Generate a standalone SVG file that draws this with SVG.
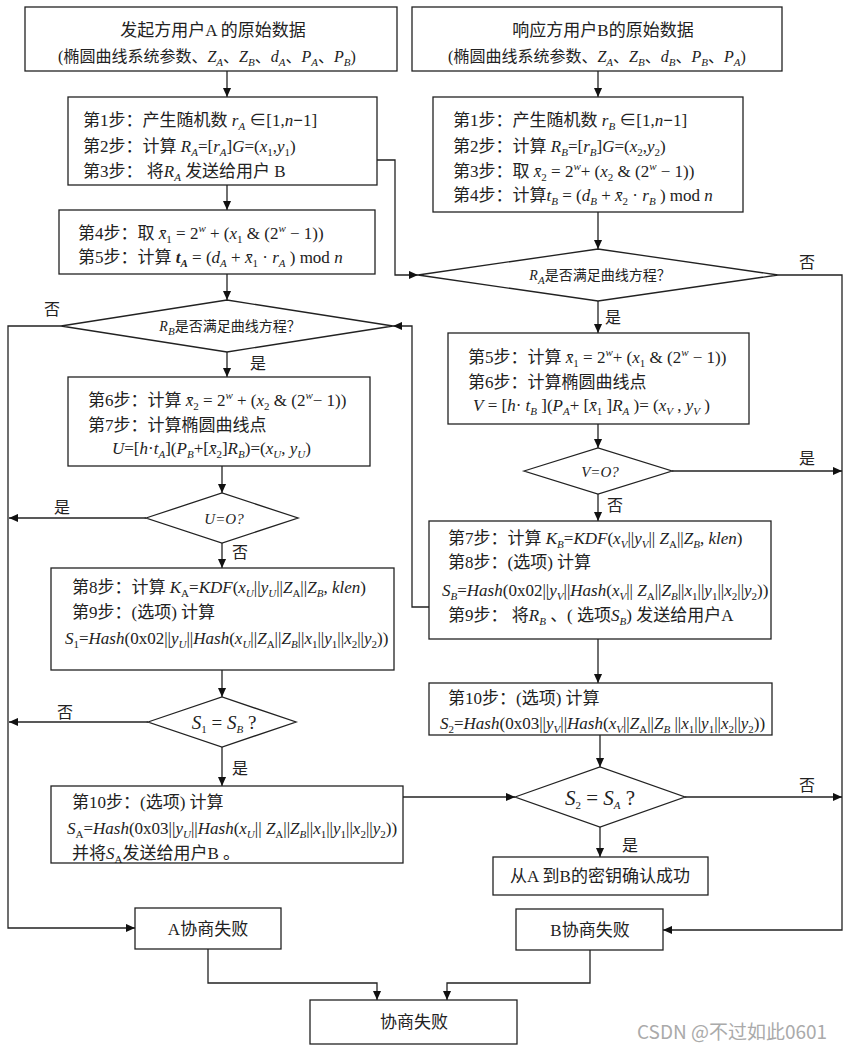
<svg xmlns="http://www.w3.org/2000/svg" width="851" height="1048" viewBox="0 0 851 1048">
<defs>
<marker id="ah" viewBox="0 0 10 10" refX="10" refY="5" markerWidth="10" markerHeight="9" markerUnits="userSpaceOnUse" orient="auto"><path d="M0,0.5 L10,5 L0,9.5 z" fill="#111"/></marker>
<style>
.bx{fill:#fff;stroke:#222;stroke-width:1.3}
.ln{fill:none;stroke:#222;stroke-width:1.3}
.ar{marker-end:url(#ah)}
text{font-family:"Liberation Serif","Noto Sans CJK SC",serif;font-size:17px;fill:#222}
.c{text-anchor:middle}
.i{font-style:italic}
.sb{font-size:11px;baseline-shift:-4px}
.sp{font-size:11px;baseline-shift:7px}
.d{font-size:14px}
.lb{font-size:16px}
.hd{font-size:16px}
.bi{font-weight:bold;font-style:italic}
.bm{font-weight:bold}
.wm{font-family:"Noto Sans CJK SC",sans-serif;font-size:19px;fill:#aaa}
</style>
</defs>
<rect width="851" height="1048" fill="#fff"/>

<g id="connectors">
<path class="ln ar" d="M227,71 V97"/>
<path class="ln ar" d="M598,71 V97"/>
<path class="ln ar" d="M227,185 V210"/>
<path class="ln ar" d="M377,160 H395 V275 H418"/>
<path class="ln ar" d="M598,212 V249"/>
<path class="ln ar" d="M227,274 V300"/>
<path class="ln ar" d="M61,326 H8 V928 H135"/>
<path class="ln ar" d="M227,352 V377"/>
<path class="ln ar" d="M778,275 H842 V930 H663"/>
<path class="ln ar" d="M598,301 V333"/>
<path class="ln ar" d="M598,424 V448"/>
<path class="ln ar" d="M672,471 H842"/>
<path class="ln ar" d="M598,494 V521"/>
<path class="ln ar" d="M429,607 H412 V326 H393"/>
<path class="ln ar" d="M222,466 V493"/>
<path class="ln ar" d="M146,518 H9"/>
<path class="ln ar" d="M222,543 V568"/>
<path class="ln ar" d="M222,670 V697"/>
<path class="ln ar" d="M148,722 H9"/>
<path class="ln ar" d="M222,747 V786"/>
<path class="ln ar" d="M598,639 V683"/>
<path class="ln ar" d="M600,735 V767"/>
<path class="ln ar" d="M403,797 H515"/>
<path class="ln ar" d="M685,797 H842"/>
<path class="ln ar" d="M600,827 V857"/>
<path class="ln ar" d="M208,949 V983 H377 V1000"/>
<path class="ln ar" d="M590,950 V983 H447 V1000"/>
</g>

<g id="labels">
<text class="c lb" x="52" y="315">否</text>
<text class="c lb" x="807" y="268">否</text>
<text class="c lb" x="613" y="323">是</text>
<text class="c lb" x="258" y="369">是</text>
<text class="c lb" x="807" y="464">是</text>
<text class="c lb" x="615" y="511">否</text>
<text class="c lb" x="62" y="513">是</text>
<text class="c lb" x="240" y="558">否</text>
<text class="c lb" x="65" y="718">否</text>
<text class="c lb" x="240" y="774">是</text>
<text class="c lb" x="807" y="791">否</text>
<text class="c lb" x="630" y="851">是</text>
</g>

<g id="nodeA0">
<rect class="bx" x="25" y="7" width="372" height="64"/>
<text class="c" x="213" y="36">发起方用户A 的原始数据</text>
<text class="c hd" x="207" y="62">(椭圆曲线系统参数、<tspan class="i">Z</tspan><tspan class="sb i">A</tspan>、<tspan class="i">Z</tspan><tspan class="sb i">B</tspan>、<tspan class="i">d</tspan><tspan class="sb i">A</tspan>、<tspan class="i">P</tspan><tspan class="sb i">A</tspan>、<tspan class="i">P</tspan><tspan class="sb i">B</tspan>)</text>
</g>

<g id="nodeB0">
<rect class="bx" x="412" y="7" width="370" height="64"/>
<text class="c" x="603" y="36">响应方用户B的原始数据</text>
<text class="c hd" x="597" y="62">(椭圆曲线系统参数、<tspan class="i">Z</tspan><tspan class="sb i">A</tspan>、<tspan class="i">Z</tspan><tspan class="sb i">B</tspan>、<tspan class="i">d</tspan><tspan class="sb i">B</tspan>、<tspan class="i">P</tspan><tspan class="sb i">B</tspan>、<tspan class="i">P</tspan><tspan class="sb i">A</tspan>)</text>
</g>

<g id="nodeA1">
<rect class="bx" x="68" y="97" width="309" height="88"/>
<text x="83" y="126">第1步：产生随机数 <tspan class="i">r</tspan><tspan class="sb i">A</tspan> ∈[1,<tspan class="i">n</tspan><tspan class="bm">−</tspan>1]</text>
<text x="83" y="152">第2步：计算 <tspan class="i">R</tspan><tspan class="sb i">A</tspan>=[<tspan class="i">r</tspan><tspan class="sb i">A</tspan>]<tspan class="i">G</tspan>=(<tspan class="i">x</tspan><tspan class="sb">1</tspan>,<tspan class="i">y</tspan><tspan class="sb">1</tspan>)</text>
<text x="83" y="177">第3步： 将<tspan class="i">R</tspan><tspan class="sb i">A</tspan> 发送给用户 B</text>
</g>

<g id="nodeB1">
<rect class="bx" x="433" y="97" width="310" height="115"/>
<text x="453" y="126">第1步：产生随机数 <tspan class="i">r</tspan><tspan class="sb i">B</tspan> ∈[1,<tspan class="i">n</tspan><tspan class="bm">−</tspan>1]</text>
<text x="453" y="152">第2步：计算 <tspan class="i">R</tspan><tspan class="sb i">B</tspan>=[<tspan class="i">r</tspan><tspan class="sb i">B</tspan>]<tspan class="i">G</tspan>=(<tspan class="i">x</tspan><tspan class="sb">2</tspan>,<tspan class="i">y</tspan><tspan class="sb">2</tspan>)</text>
<text x="453" y="177">第3步：取 <tspan class="i">x&#x304;</tspan><tspan class="sb">2</tspan> = 2<tspan class="sp i">w</tspan>+ (<tspan class="i">x</tspan><tspan class="sb">2</tspan> &amp; (2<tspan class="sp i">w</tspan> − 1))</text>
<text x="453" y="201">第4步：计算<tspan class="i">t</tspan><tspan class="sb i">B</tspan> = (<tspan class="i">d</tspan><tspan class="sb i">B</tspan> + <tspan class="i">x&#x304;</tspan><tspan class="sb">2</tspan> · <tspan class="i">r</tspan><tspan class="sb i">B</tspan> ) mod <tspan class="i">n</tspan></text>
</g>

<g id="nodeA2">
<rect class="bx" x="59" y="210" width="316" height="64"/>
<text x="78" y="239">第4步：取 <tspan class="i">x&#x304;</tspan><tspan class="sb">1</tspan> = 2<tspan class="sp i">w</tspan> + (<tspan class="i">x</tspan><tspan class="sb">1</tspan> &amp; (2<tspan class="sp i">w</tspan> − 1))</text>
<text x="78" y="263">第5步：计算 <tspan class="bi">t</tspan><tspan class="sb bi">A</tspan> = (<tspan class="i">d</tspan><tspan class="sb i">A</tspan> + <tspan class="i">x&#x304;</tspan><tspan class="sb">1</tspan> · <tspan class="i">r</tspan><tspan class="sb i">A</tspan> ) mod <tspan class="i">n</tspan></text>
</g>

<g id="decRA">
<polygon class="bx" points="418,275 598,249 778,275 598,301"/>
<text class="c d" x="600" y="280"><tspan class="i">R</tspan><tspan class="sb i">A</tspan>是否满足曲线方程？</text>
</g>

<g id="decRB">
<polygon class="bx" points="61,326 227,300 393,326 227,352"/>
<text class="c d" x="230" y="331"><tspan class="i">R</tspan><tspan class="sb i">B</tspan>是否满足曲线方程？</text>
</g>

<g id="nodeA3">
<rect class="bx" x="68" y="377" width="302" height="89"/>
<text x="88" y="406">第6步：计算 <tspan class="i">x&#x304;</tspan><tspan class="sb">2</tspan> = 2<tspan class="sp i">w</tspan> + (<tspan class="i">x</tspan><tspan class="sb">2</tspan> &amp; (2<tspan class="sp i">w</tspan>− 1))</text>
<text x="88" y="431">第7步：计算椭圆曲线点</text>
<text x="112" y="454"><tspan class="i">U</tspan>=[<tspan class="i">h</tspan>·<tspan class="i">t</tspan><tspan class="sb i">A</tspan>](<tspan class="i">P</tspan><tspan class="sb i">B</tspan>+[<tspan class="i">x&#x304;</tspan><tspan class="sb">2</tspan>]<tspan class="i">R</tspan><tspan class="sb i">B</tspan>)=(<tspan class="i">x</tspan><tspan class="sb i">U</tspan>, <tspan class="i">y</tspan><tspan class="sb i">U</tspan>)</text>
</g>

<g id="nodeB2">
<rect class="bx" x="448" y="333" width="301" height="91"/>
<text x="468" y="363">第5步：计算 <tspan class="i">x&#x304;</tspan><tspan class="sb">1</tspan> = 2<tspan class="sp i">w</tspan>+ (<tspan class="i">x</tspan><tspan class="sb">1</tspan> &amp; (2<tspan class="sp i">w</tspan> − 1))</text>
<text x="468" y="388">第6步：计算椭圆曲线点</text>
<text x="473" y="411"><tspan class="i">V</tspan> = [<tspan class="i">h</tspan>· <tspan class="i">t</tspan><tspan class="sb i">B</tspan> ](<tspan class="i">P</tspan><tspan class="sb i">A</tspan>+ [<tspan class="i">x&#x304;</tspan><tspan class="sb">1</tspan> ]<tspan class="i">R</tspan><tspan class="sb i">A</tspan> )= (<tspan class="i">x</tspan><tspan class="sb i">V</tspan> , <tspan class="i">y</tspan><tspan class="sb i">V</tspan> )</text>
</g>

<g id="decV">
<polygon class="bx" points="524,471 598,448 672,471 598,494"/>
<text class="c i" x="600" y="477" style="font-size:15px">V=O?</text>
</g>

<g id="decU">
<polygon class="bx" points="146,518 222,493 298,518 222,543"/>
<text class="c i" x="224" y="524" style="font-size:15px">U=O?</text>
</g>

<g id="nodeA4">
<rect class="bx" x="51" y="568" width="343" height="102"/>
<text x="72" y="593">第8步：计算 <tspan class="i">K</tspan><tspan class="sb">A</tspan>=<tspan class="i">KDF</tspan>(<tspan class="i">x</tspan><tspan class="sb i">U</tspan>||<tspan class="i">y</tspan><tspan class="sb i">U</tspan>||<tspan class="i">Z</tspan><tspan class="sb">A</tspan>||<tspan class="i">Z</tspan><tspan class="sb i">B</tspan>, <tspan class="i">klen</tspan>)</text>
<text x="72" y="618">第9步：(选项) 计算</text>
<text x="65" y="644"><tspan class="i">S</tspan><tspan class="sb">1</tspan>=<tspan class="i">Hash</tspan>(0x02||<tspan class="i">y</tspan><tspan class="sb i">U</tspan>||<tspan class="i">Hash</tspan>(<tspan class="i">x</tspan><tspan class="sb i">U</tspan>||<tspan class="i">Z</tspan><tspan class="sb">A</tspan>||<tspan class="i">Z</tspan><tspan class="sb i">B</tspan>||<tspan class="i">x</tspan><tspan class="sb">1</tspan>||<tspan class="i">y</tspan><tspan class="sb">1</tspan>||<tspan class="i">x</tspan><tspan class="sb">2</tspan>||<tspan class="i">y</tspan><tspan class="sb">2</tspan>))</text>
</g>

<g id="nodeB3">
<rect class="bx" x="429" y="521" width="342" height="118"/>
<text x="448" y="544">第7步：计算 <tspan class="i">K</tspan><tspan class="sb i">B</tspan>=<tspan class="i">KDF</tspan>(<tspan class="i">x</tspan><tspan class="sb i">V</tspan>||<tspan class="i">y</tspan><tspan class="sb i">V</tspan>|| <tspan class="i">Z</tspan><tspan class="sb">A</tspan>||<tspan class="i">Z</tspan><tspan class="sb i">B</tspan>, <tspan class="i">klen</tspan>)</text>
<text x="448" y="568">第8步：(选项) 计算</text>
<text x="442" y="596"><tspan class="i">S</tspan><tspan class="sb i">B</tspan>=<tspan class="i">Hash</tspan>(0x02||<tspan class="i">y</tspan><tspan class="sb i">V</tspan>||<tspan class="i">Hash</tspan>(<tspan class="i">x</tspan><tspan class="sb i">V</tspan>|| <tspan class="i">Z</tspan><tspan class="sb">A</tspan>||<tspan class="i">Z</tspan><tspan class="sb i">B</tspan>||<tspan class="i">x</tspan><tspan class="sb">1</tspan>||<tspan class="i">y</tspan><tspan class="sb">1</tspan>||<tspan class="i">x</tspan><tspan class="sb">2</tspan>||<tspan class="i">y</tspan><tspan class="sb">2</tspan>))</text>
<text x="448" y="621">第9步： 将<tspan class="i">R</tspan><tspan class="sb i">B</tspan> 、( 选项<tspan class="i">S</tspan><tspan class="sb i">B</tspan>) 发送给用户A</text>
</g>

<g id="decS1">
<polygon class="bx" points="148,722 222,697 296,722 222,747"/>
<text class="c" x="224" y="729" style="font-size:19px"><tspan class="i">S</tspan><tspan class="sb">1</tspan> = <tspan class="i">S</tspan><tspan class="sb i">B</tspan> ?</text>
</g>

<g id="nodeB4">
<rect class="bx" x="429" y="683" width="343" height="52"/>
<text x="448" y="704">第10步：(选项) 计算</text>
<text x="440" y="729"><tspan class="i">S</tspan><tspan class="sb">2</tspan>=<tspan class="i">Hash</tspan>(0x03||<tspan class="i">y</tspan><tspan class="sb i">V</tspan>||<tspan class="i">Hash</tspan>(<tspan class="i">x</tspan><tspan class="sb i">V</tspan>||<tspan class="i">Z</tspan><tspan class="sb">A</tspan>||<tspan class="i">Z</tspan><tspan class="sb i">B</tspan> ||<tspan class="i">x</tspan><tspan class="sb">1</tspan>||<tspan class="i">y</tspan><tspan class="sb">1</tspan>||<tspan class="i">x</tspan><tspan class="sb">2</tspan>||<tspan class="i">y</tspan><tspan class="sb">2</tspan>))</text>
</g>

<g id="nodeA5">
<rect class="bx" x="51" y="786" width="352" height="77"/>
<text x="72" y="808">第10步：(选项) 计算</text>
<text x="67" y="834"><tspan class="i">S</tspan><tspan class="sb">A</tspan>=<tspan class="i">Hash</tspan>(0x03||<tspan class="i">y</tspan><tspan class="sb i">U</tspan>||<tspan class="i">Hash</tspan>(<tspan class="i">x</tspan><tspan class="sb i">U</tspan>|| <tspan class="i">Z</tspan><tspan class="sb">A</tspan>||<tspan class="i">Z</tspan><tspan class="sb i">B</tspan>||<tspan class="i">x</tspan><tspan class="sb">1</tspan>||<tspan class="i">y</tspan><tspan class="sb">1</tspan>||<tspan class="i">x</tspan><tspan class="sb">2</tspan>||<tspan class="i">y</tspan><tspan class="sb">2</tspan>))</text>
<text x="72" y="859">并将<tspan class="i">S</tspan><tspan class="sb">A</tspan>发送给用户B 。</text>
</g>

<g id="decS2">
<polygon class="bx" points="515,797 600,767 685,797 600,827"/>
<text class="c" x="600" y="805" style="font-size:21px"><tspan class="i">S</tspan><tspan class="sb">2</tspan> = <tspan class="i">S</tspan><tspan class="sb i">A</tspan> ?</text>
</g>

<g id="nodeOK">
<rect class="bx" x="493" y="857" width="215" height="38"/>
<text class="c" x="600" y="882">从A 到B的密钥确认成功</text>
</g>

<g id="nodeFailA">
<rect class="bx" x="135" y="908" width="146" height="41"/>
<text class="c" x="208" y="935">A协商失败</text>
</g>

<g id="nodeFailB">
<rect class="bx" x="516" y="909" width="147" height="41"/>
<text class="c" x="590" y="936">B协商失败</text>
</g>

<g id="nodeFail">
<rect class="bx" x="310" y="1000" width="207" height="44"/>
<text class="c" x="414" y="1028">协商失败</text>
</g>

<text class="wm" x="637" y="1039">CSDN @不过如此0601</text>
</svg>
